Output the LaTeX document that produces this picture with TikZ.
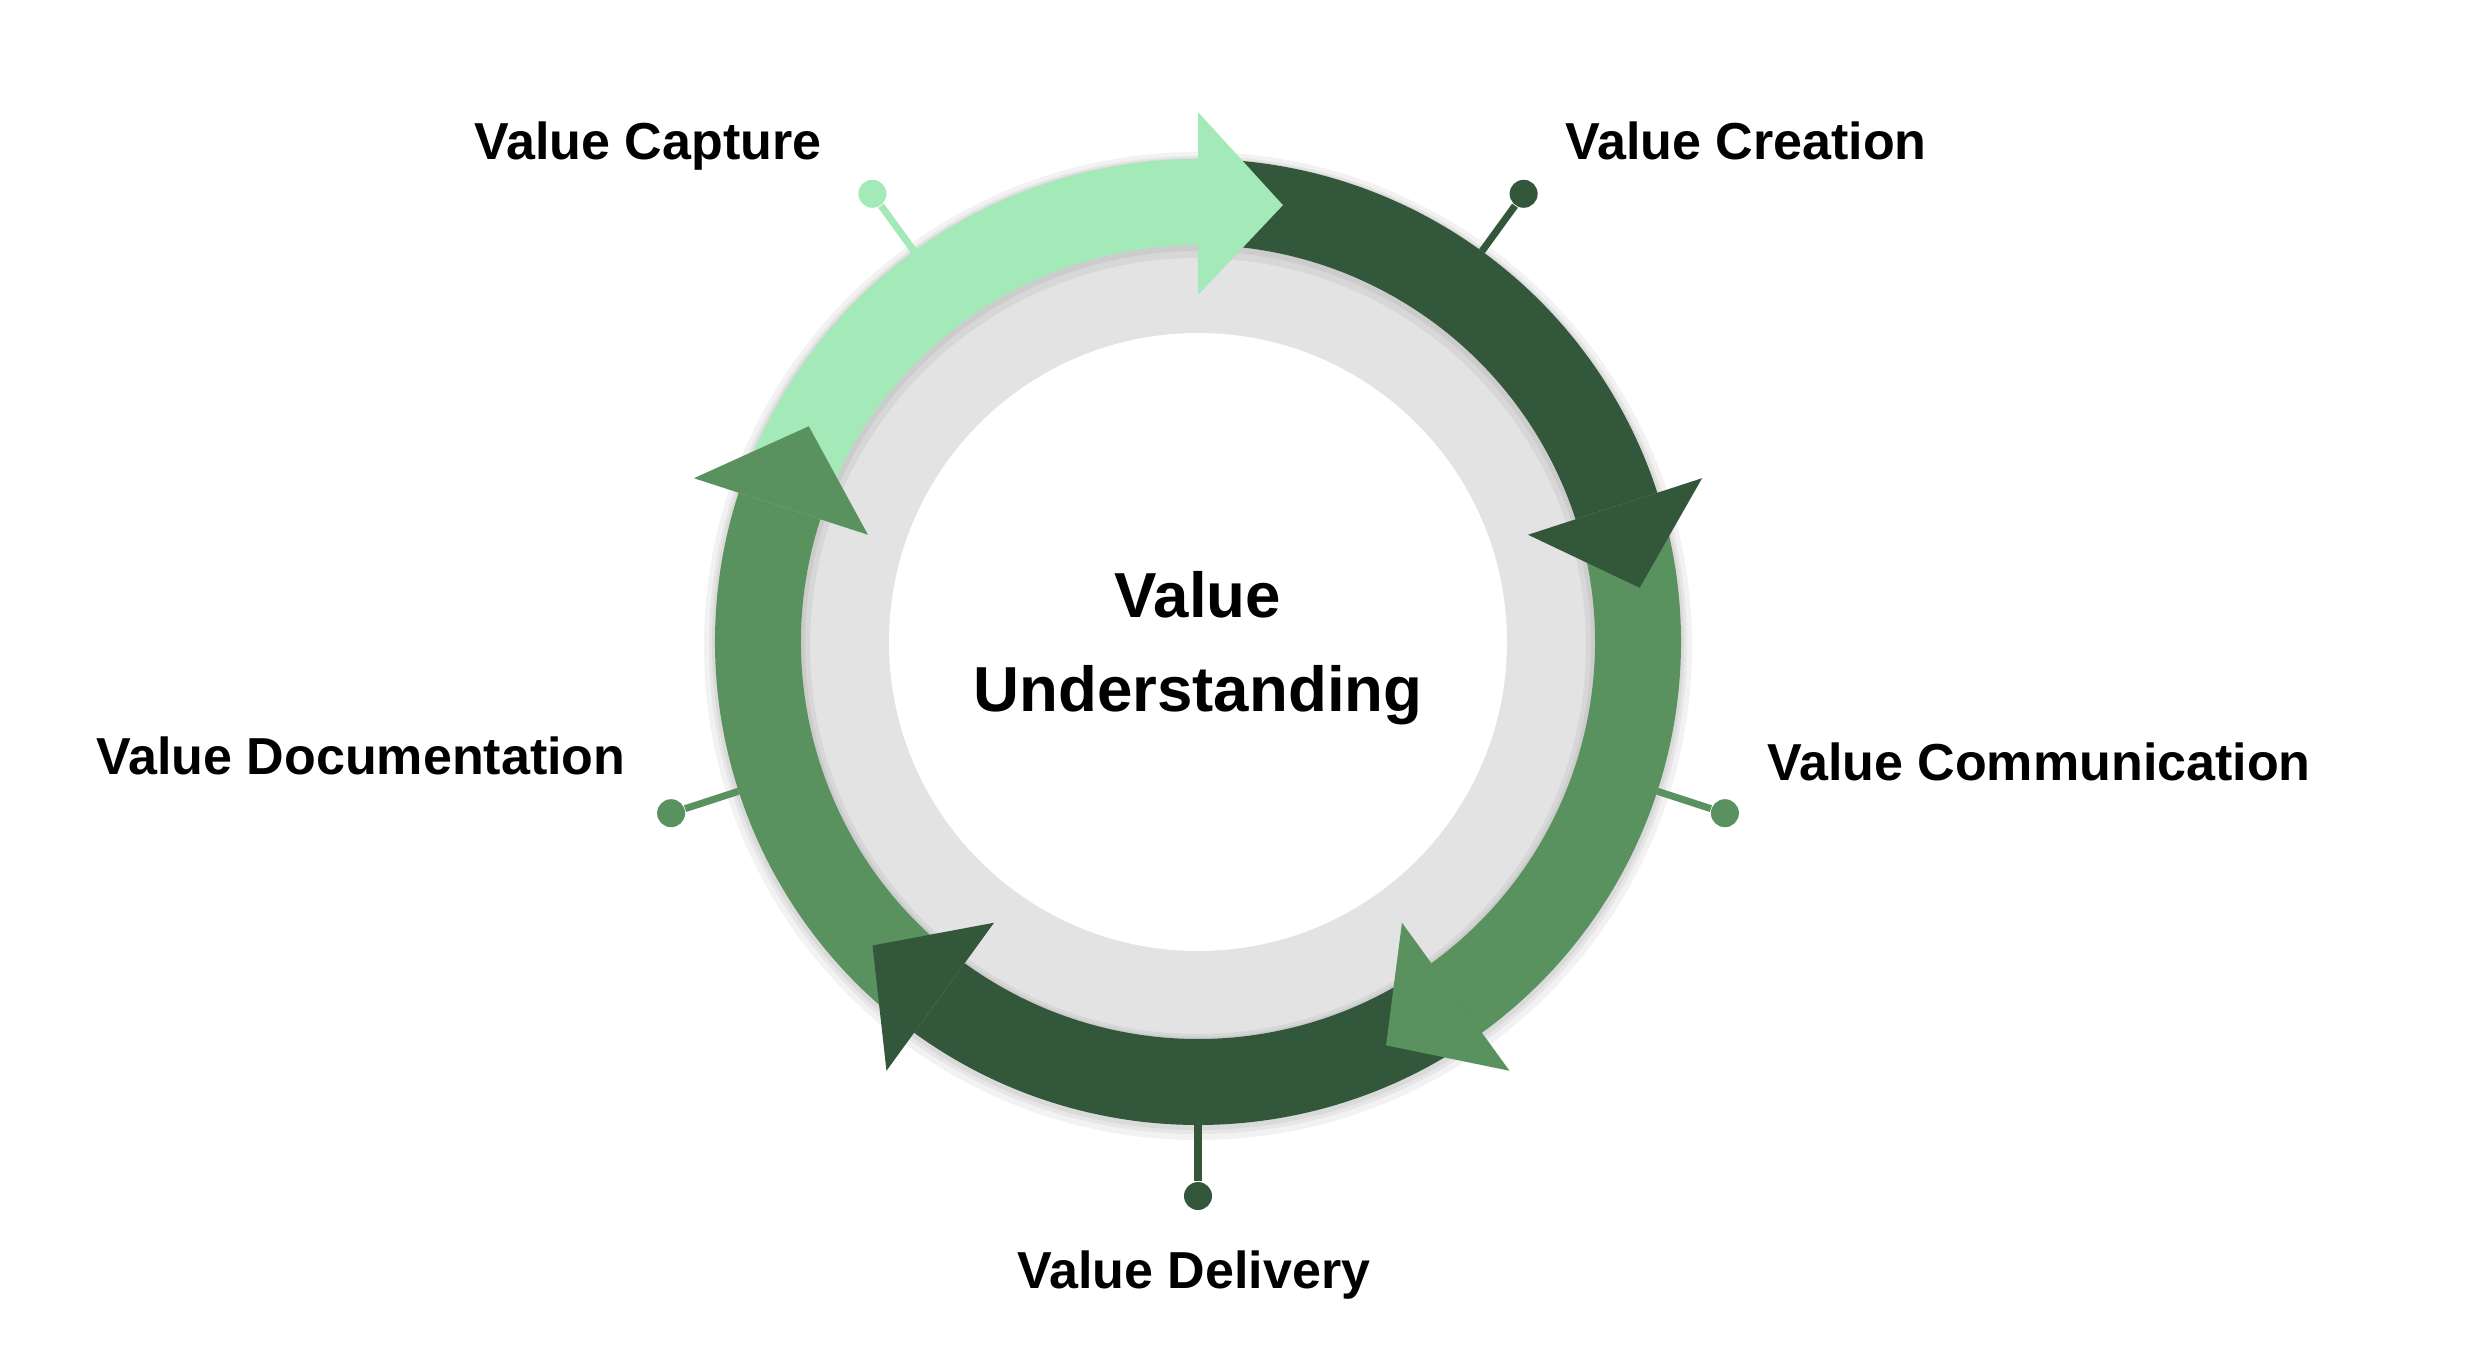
\documentclass[tikz,border=0pt]{standalone}
\usepackage{fontspec}
\setmainfont{Liberation Sans}
\definecolor{lightleaf}{HTML}{A3EAB8}
\definecolor{darkleaf}{HTML}{33573A}
\definecolor{midleaf}{HTML}{5A925F}
\definecolor{ringgray}{HTML}{E3E3E3}
\tikzset{
    every node/.style={inner sep=0pt, font=\bfseries\fontsize{14.8}{18}\selectfont}
}
\tikzset{
    pinline/.style={line width=2pt},
    pindot/.style={circle, minimum size=0.28cm},
    stagetext/.style={anchor=base},
    softshade/.style={black, opacity=0.05}
}
\pgfdeclarelayer{background}
\pgfsetlayers{background,main}

\begin{document}
\begin{tikzpicture}
	\useasboundingbox (-11.98,-7.18) rectangle (12.74,6.42);

	\begin{pgfonlayer}{background}
		\fill[softshade] (0,-0.04) circle (4.94);
		\fill[softshade] (0,-0.03) circle (4.89);
		\fill[softshade] (0,-0.02) circle (4.86);
		\fill[ringgray] (0,0) circle (3.97);
		\fill[softshade, even odd rule] (0,0) circle (3.97) (0,-0.04) circle (3.88);
		\fill[softshade, even odd rule] (0,0) circle (3.97) (0,-0.02) circle (3.93);
		\fill[white] (0,0) circle (3.09);
	\end{pgfonlayer}

	% ring pieces
	\fill[lightleaf] (162:4.83) arc (162:90:4.83) -- (90:3.97) arc (90:162:3.97) -- cycle;
	\fill[darkleaf] (90:4.83) arc (90:18:4.83) -- (18:3.97) arc (18:90:3.97) -- cycle;
	\fill[midleaf] (18:4.83) arc (18:-54:4.83) -- (-54:3.97) arc (-54:18:3.97) -- cycle;
	\fill[darkleaf] (-54:4.83) arc (-54:-126:4.83) -- (-126:3.97) arc (-126:-54:3.97) -- cycle;
	\fill[midleaf] (-126:4.83) arc (-126:-198:4.83) -- (-198:3.97) arc (-198:-126:3.97) -- cycle;

	% arrow heads
	\fill[lightleaf] (90:3.47) -- (90:5.30) -- (79:4.45) -- cycle;
	\fill[darkleaf] (18:3.47) -- (18:5.30) -- (7:4.45) -- cycle;
	\fill[midleaf] (-54:3.47) -- (-54:5.30) -- (-65:4.45) -- cycle;
	\fill[darkleaf] (-126:3.47) -- (-126:5.30) -- (-137:4.45) -- cycle;
	\fill[midleaf] (-198:3.47) -- (-198:5.30) -- (-209:4.45) -- cycle;

	% pins
	\coordinate (capA) at (126:4.83);
	\node[pindot, fill=lightleaf] (capB) at (126:5.54) {};
	\coordinate (creA) at (54:4.83);
	\node[pindot, fill=darkleaf] (creB) at (54:5.54) {};
	\coordinate (comA) at (-18:4.83);
	\node[pindot, fill=midleaf] (comB) at (-18:5.54) {};
	\coordinate (delA) at (-90:4.83);
	\node[pindot, fill=darkleaf] (delB) at (-90:5.54) {};
	\coordinate (docA) at (-162:4.83);
	\node[pindot, fill=midleaf] (docB) at (-162:5.54) {};
	\draw[pinline, lightleaf] (capA) -- (capB);
	\draw[pinline, darkleaf] (creA) -- (creB);
	\draw[pinline, midleaf] (comA) -- (comB);
	\draw[pinline, darkleaf] (delA) -- (delB);
	\draw[pinline, midleaf] (docA) -- (docB);

	\node[stagetext] (capture) at (-5.50,4.82) {Value Capture};
	\node[stagetext] (creation) at (5.48,4.82) {Value Creation};
	\node[stagetext] (communication) at (8.41,-1.38) {Value Communication};
	\node[stagetext] (delivery) at (-0.04,-6.46) {Value Delivery};
	\node[stagetext] (documentation) at (-8.37,-1.32) {Value Documentation};

	\node[align=center, font=\bfseries\fontsize{18.1}{26.7}\selectfont] (understanding) at (0,-0.06) {Value\\Understanding};
\end{tikzpicture}
\end{document}
